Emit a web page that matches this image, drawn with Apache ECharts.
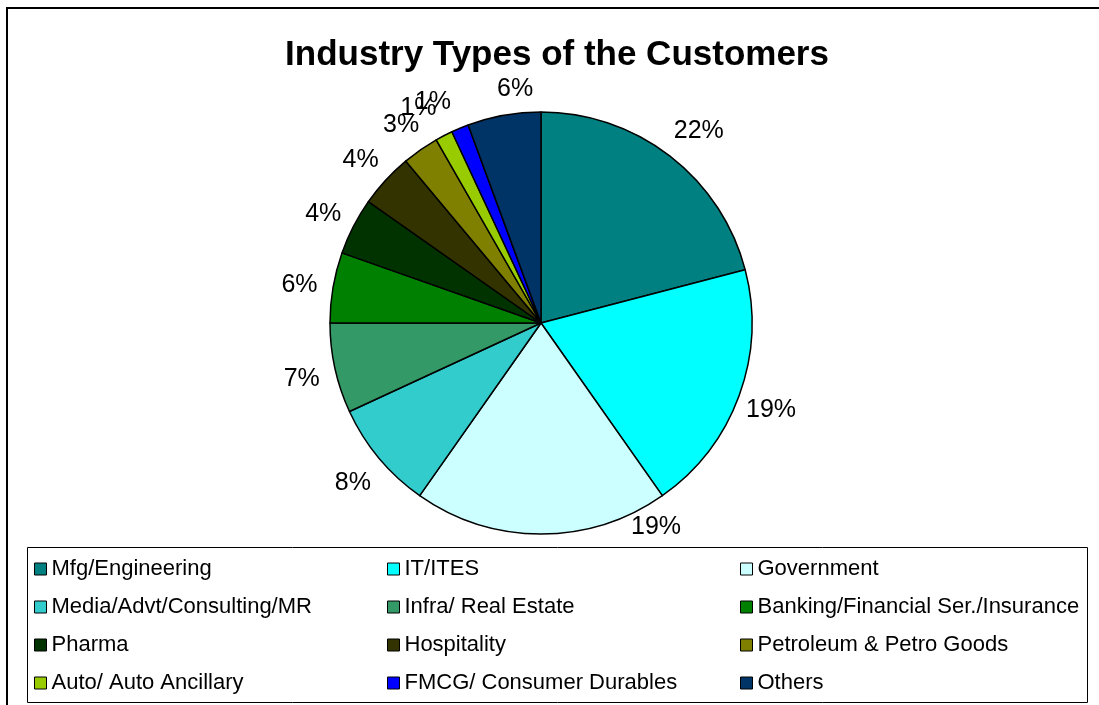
<!DOCTYPE html>
<html>
<head>
<meta charset="utf-8">
<script src="https://cdn.jsdelivr.net/npm/echarts@6/dist/echarts.min.js"></script>
<style>
  html, body { margin: 0; padding: 0; background: #fff; }
  #main { width: 1099px; height: 705px; }
</style>
</head>
<body>
<div id="main"></div>
<script>
// industries, in the order Excel draws them (clockwise from 12 o'clock)
var industries = [
    'Mfg/Engineering',
    'IT/ITES',
    'Government',
    'Media/Advt/Consulting/MR',
    'Infra/ Real Estate',
    'Banking/Financial Ser./Insurance',
    'Pharma',
    'Hospitality',
    'Petroleum & Petro Goods',
    'Auto/ Auto Ancillary',
    'FMCG/ Consumer Durables',
    'Others'
];
// share in percent
var shares = [20.94, 19.31, 19.50, 8.36, 6.89, 5.39, 4.36, 4.17, 2.81, 1.33, 1.33, 5.61];
// the percentages as printed on the chart
var pctLabels = ['22%', '19%', '19%', '8%', '7%', '6%', '4%', '4%', '3%', '1%', '1%', '6%'];
var colors = ['#008080', '#00ffff', '#ccffff', '#33cccc', '#339966', '#008000',
              '#003300', '#333300', '#808000', '#99cc00', '#0000ff', '#003366'];

// legend columns (Excel fills the legend row by row, 3 per row)
var legendCols = [[], [], []];
industries.forEach(function (n, i) { legendCols[i % 3].push(n); });
var legendLeft = [34, 387, 740];

var pieData = industries.map(function (n, i) {
    return { name: n, value: shares[i], itemStyle: { color: colors[i] } };
});
var ringData = industries.map(function (n, i) {
    return { name: n, value: shares[i] };
});

var font = '"Liberation Sans", Arial, sans-serif';

var legends = legendCols.map(function (col, k) {
    return {
        orient: 'vertical',
        left: legendLeft[k],
        top: 558,
        padding: 0,
        data: col,
        icon: 'rect',
        itemWidth: 12,
        itemHeight: 12,
        itemGap: 16,
        selectedMode: false,
        itemStyle: { borderColor: '#000', borderWidth: 1 },
        textStyle: { fontFamily: font, fontSize: 22, color: '#000', lineHeight: 22 }
    };
});

// small hand nudges where Excel moved a label off its slice's mid-angle
function nudge(i) {
    if (i === 0) return [8, 2];
    if (i === 2) return [115, -41];
    if (i === 9) return [-10, 3];
    if (i === 10) return [-14, 5];
    if (i === 11) return [17, 7];
    return [0, 3];
}

var chart = echarts.init(document.getElementById('main'));
var option = {
    backgroundColor: '#fff',
    animation: false,
    title: {
        text: 'Industry Types of the Customers',
        left: 557,
        textAlign: 'center',
        top: 38,
        padding: 0,
        textStyle: { fontFamily: font, fontSize: 35, fontWeight: 'bold', color: '#000' }
    },
    legend: legends,
    graphic: [
        { type: 'rect', shape: { x: 7, y: 8, width: 1110, height: 720 },
          style: { fill: 'none', stroke: '#000', lineWidth: 2 }, silent: true },
        { type: 'rect', shape: { x: 27.5, y: 547.5, width: 1060, height: 155 },
          style: { fill: 'none', stroke: '#000', lineWidth: 1 }, silent: true }
    ],
    series: [
        {
            type: 'pie',
            center: [541, 323],
            radius: 211,
            startAngle: 90,
            clockwise: true,
            data: pieData,
            label: { show: false },
            labelLine: { show: false },
            itemStyle: { borderColor: '#000', borderWidth: 1.5 },
            emphasis: { disabled: true }
        },
        {
            // invisible ring only used to centre the % labels around the pie
            type: 'pie',
            center: [541, 323],
            radius: [222, 262],
            startAngle: 90,
            clockwise: true,
            silent: true,
            avoidLabelOverlap: false,
            data: ringData,
            itemStyle: { color: 'rgba(0,0,0,0)', borderWidth: 0 },
            label: {
                show: true,
                position: 'inside',
                fontFamily: font,
                fontSize: 25,
                color: '#000',
                formatter: function (p) { return pctLabels[p.dataIndex]; }
            },
            labelLine: { show: false },
            labelLayout: function (p) {
                var d = nudge(p.dataIndex);
                return { dx: d[0], dy: d[1], hideOverlap: false };
            },
            emphasis: { disabled: true }
        }
    ]
};
option && chart.setOption(option);
</script>
</body>
</html>
